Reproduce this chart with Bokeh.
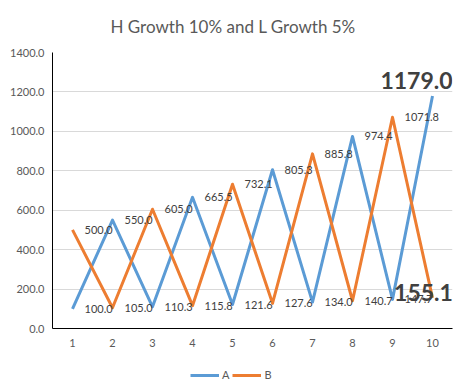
from bokeh.plotting import figure
from bokeh.layouts import column
from bokeh.embed import file_html
from bokeh.resources import INLINE
from bokeh.core.properties import value
from bokeh.models import (FactorRange, Range1d, NumeralTickFormatter, Legend,
                          LegendItem, FixedTicker, ColumnDataSource)

title_text = "H Growth 10% and L Growth 5%"
cats = [str(i) for i in range(1, 11)]
series_names = ["A", "B"]
series_a = [100.0, 550.0, 110.3, 665.5, 121.6, 805.3, 134.0, 974.4, 147.7, 1179.0]
series_b = [500.0, 105.0, 605.0, 115.8, 732.1, 127.6, 885.8, 140.7, 1071.8, 155.1]
y_ticks = [0, 200, 400, 600, 800, 1000, 1200, 1400]

BLUE = "#5B9BD5"
ORANGE = "#ED7D31"
FONT = "Lato"

p = figure(frame_width=400, frame_height=276, output_backend="svg", toolbar_location=None,
           x_range=FactorRange(*cats, range_padding=0), y_range=Range1d(0, 1400),
           min_border_left=52, min_border_right=7, min_border_top=52, min_border_bottom=28)
p.outline_line_color = None
p.background_fill_color = "white"
p.border_fill_color = "white"

p.title.text = title_text
p.title.align = "left"
p.title.offset = 58
p.title.standoff = 28
p.title.vertical_align = "top"
p.title.text_font = FONT
p.title.text_font_size = "17px"
p.title.text_font_style = "normal"
p.title.text_color = "#595959"

# axes
for ax in (p.xaxis[0], p.yaxis[0]):
    ax.axis_line_color = "#000000"
    ax.axis_line_width = 1
    ax.major_tick_line_color = None
    ax.minor_tick_line_color = None
    ax.major_tick_out = 0
    ax.major_tick_in = 0
    ax.minor_tick_out = 0
    ax.major_label_text_color = "#595959"
    ax.major_label_text_font = FONT
    ax.major_label_text_font_size = "11px"
p.yaxis.ticker = FixedTicker(ticks=y_ticks)
p.yaxis.formatter = NumeralTickFormatter(format="0.0")
p.yaxis.major_label_standoff = 8
p.xaxis.major_label_standoff = 10
p.xgrid.grid_line_color = None
p.ygrid.grid_line_color = "#D9D9D9"
p.ygrid.grid_line_width = 1

src_a = ColumnDataSource(dict(x=cats, y=series_a))
src_b = ColumnDataSource(dict(x=cats, y=series_b))
ra = p.line("x", "y", source=src_a, line_color=BLUE, line_width=3, line_join="round")
rb = p.line("x", "y", source=src_b, line_color=ORANGE, line_width=3, line_join="round")

# normal data labels (right of points)
lx, ly, lt = [], [], []
for ser in (series_a, series_b):
    for c, v in zip(cats[:-1], ser[:-1]):
        lx.append(c); ly.append(v); lt.append(f"{v:.1f}")
p.text(x=lx, y=ly, text=lt, x_offset=12, text_align="left", text_baseline="middle",
       text_font=value(FONT), text_font_size="11px", text_color="#404040")

# emphasised last labels
p.text(x=[cats[-1]], y=[series_a[-1]], text=[f"{series_a[-1]:.1f}"], x_offset=-16, y_offset=-16,
       text_align="center", text_baseline="middle", text_font=value(FONT),
       text_font_size="23px", text_font_style="bold", text_color="#404040")
p.text(x=[cats[-1]], y=[series_b[-1]], text=[f"{series_b[-1]:.1f}"], x_offset=-9, y_offset=-5,
       text_align="center", text_baseline="middle", text_font=value(FONT),
       text_font_size="23px", text_font_style="bold", text_color="#404040")

# legend strip below the chart (series drawn outside its visible ranges, legend only)
x_pos = [int(c) for c in cats]
lf = figure(width=459, height=27, output_backend="svg", toolbar_location=None,
            x_axis_location=None, y_axis_location=None, min_border=0,
            x_range=Range1d(0, 1), y_range=Range1d(0, 1))
lf.outline_line_color = None
lf.grid.visible = False
la = lf.line(x=x_pos, y=series_a, line_color=BLUE, line_width=3)
lb = lf.line(x=x_pos, y=series_b, line_color=ORANGE, line_width=3)
legend = Legend(items=[LegendItem(label=series_names[0], renderers=[la]),
                       LegendItem(label=series_names[1], renderers=[lb])],
                orientation="horizontal", location=(138, 2), border_line_color=None,
                background_fill_alpha=0, glyph_width=29, glyph_height=12, label_standoff=3,
                label_width=0, spacing=3, padding=3, margin=0,
                label_text_font=FONT, label_text_font_size="11px", label_text_color="#595959")
lf.add_layout(legend, "center")

layout = column(p, lf, spacing=0)
open("out.html", "w").write(file_html(layout, INLINE))
